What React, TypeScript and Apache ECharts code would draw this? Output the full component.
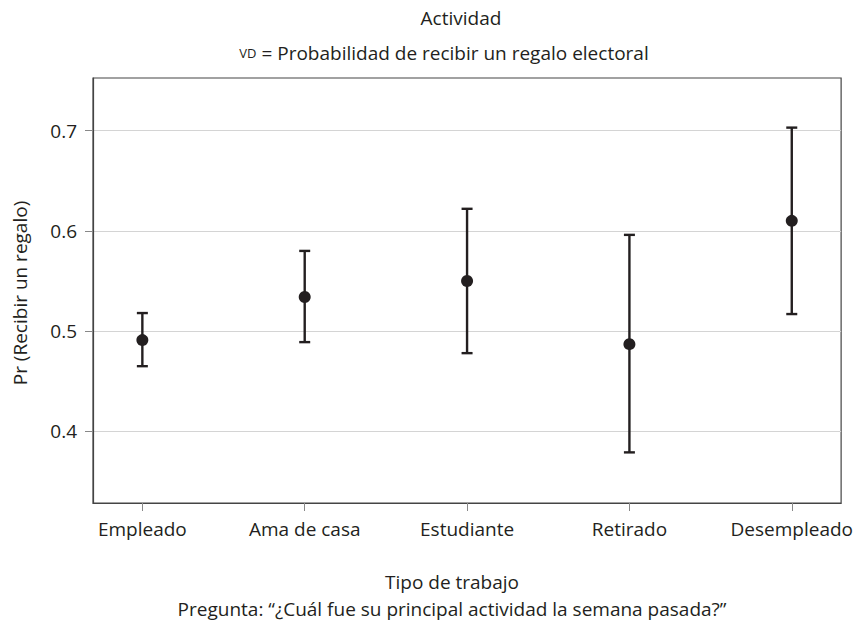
import React, { useEffect, useRef } from "react";
import * as echarts from "echarts";

const categories = ["Empleado", "Ama de casa", "Estudiante", "Retirado", "Desempleado"];
const means = [0.491, 0.534, 0.55, 0.487, 0.61];
const lower = [0.465, 0.489, 0.478, 0.379, 0.517];
const upper = [0.518, 0.58, 0.622, 0.596, 0.703];
const yTicks = [0.4, 0.5, 0.6, 0.7];
const xTicks = [0, 1, 2, 3, 4];

const titleText = "Actividad";
const subtitleText = "{s|VD} = Probabilidad de recibir un regalo electoral";
const xAxisName = "Tipo de trabajo";
const xAxisNote = "Pregunta: \u201c\u00bfCu\u00e1l fue su principal actividad la semana pasada?\u201d";
const yAxisName = "Pr (Recibir un regalo)";

const FONT = "'Open Sans', 'Noto Sans', sans-serif";
const INK = "#231f20";
const FS = 19;

export default function App() {
  const ref = useRef<HTMLDivElement>(null);
  useEffect(() => {
    if (!ref.current) return;
    const chart = echarts.init(ref.current, null, { renderer: "svg" });
    const points = categories.map((_, i) => [i, means[i]]);
    const bars = categories.map((_, i) => [i, lower[i], upper[i]]);
    chart.setOption({
      animation: false,
      backgroundColor: "#ffffff",
      textStyle: { fontFamily: FONT },
      grid: {
        left: 93,
        right: 9,
        top: 78,
        bottom: 120,
        show: true,
        borderColor: "#444444",
        borderWidth: 1.2,
        backgroundColor: "transparent",
      },
      xAxis: {
        type: "value",
        min: -0.304,
        max: 4.304,
        axisLine: { show: true, onZero: false, lineStyle: { color: "#444444", width: 1.2 } },
        axisTick: {
          show: true,
          length: 8,
          customValues: xTicks,
          lineStyle: { color: "#888888", width: 1 },
        },
        axisLabel: {
          customValues: xTicks,
          formatter: (v: number) => categories[Math.round(v)] ?? "",
          fontSize: FS,
          fontFamily: FONT,
          color: INK,
          margin: 16,
        },
        splitLine: { show: false },
      },
      yAxis: {
        type: "value",
        min: 0.3285,
        max: 0.7525,
        axisLine: { show: true, onZero: false, lineStyle: { color: "#444444", width: 1.2 } },
        axisTick: {
          show: true,
          length: 8,
          customValues: yTicks,
          lineStyle: { color: "#888888", width: 1 },
        },
        axisLabel: {
          customValues: yTicks,
          formatter: (v: number) => v.toFixed(1),
          fontSize: FS,
          fontFamily: FONT,
          color: INK,
          margin: 16,
        },
        splitLine: { show: true, lineStyle: { color: "#d4d4d4", width: 1 } },
      },
      series: [
        {
          type: "custom",
          data: bars,
          encode: { x: 0, y: [1, 2] },
          z: 2,
          renderItem: (params: any, api: any) => {
            const x = api.value(0);
            const lo = api.coord([x, api.value(1)]);
            const hi = api.coord([x, api.value(2)]);
            const cap = 5.5;
            const style = { stroke: INK, lineWidth: 2.4 };
            return {
              type: "group",
              children: [
                { type: "line", shape: { x1: lo[0], y1: lo[1], x2: hi[0], y2: hi[1] }, style },
                { type: "line", shape: { x1: hi[0] - cap, y1: hi[1], x2: hi[0] + cap, y2: hi[1] }, style },
                { type: "line", shape: { x1: lo[0] - cap, y1: lo[1], x2: lo[0] + cap, y2: lo[1] }, style },
              ],
            };
          },
        },
        {
          type: "scatter",
          data: points,
          symbol: "circle",
          symbolSize: 12,
          z: 3,
          itemStyle: { color: INK, opacity: 1 },
        },
      ],
      graphic: [
        {
          type: "text",
          x: 461,
          y: 18,
          style: {
            text: titleText,
            font: `${FS}px ${FONT}`,
            fill: INK,
            textAlign: "center",
            textVerticalAlign: "middle",
          },
        },
        {
          type: "text",
          x: 444,
          y: 53,
          style: {
            text: subtitleText,
            font: `${FS}px ${FONT}`,
            fill: INK,
            textAlign: "center",
            textVerticalAlign: "middle",
            rich: { s: { fontSize: 13, fontFamily: FONT, fill: INK } },
          },
        },
        {
          type: "text",
          x: 452,
          y: 582,
          style: {
            text: xAxisName,
            font: `${FS}px ${FONT}`,
            fill: INK,
            textAlign: "center",
            textVerticalAlign: "middle",
          },
        },
        {
          type: "text",
          x: 452,
          y: 608.5,
          style: {
            text: xAxisNote,
            font: `${FS}px ${FONT}`,
            fill: INK,
            textAlign: "center",
            textVerticalAlign: "middle",
          },
        },
        {
          type: "text",
          x: 20,
          y: 293,
          rotation: Math.PI / 2,
          style: {
            text: yAxisName,
            font: `${FS}px ${FONT}`,
            fill: INK,
            textAlign: "center",
            textVerticalAlign: "middle",
          },
        },
      ],
    });
    return () => chart.dispose();
  }, []);
  return (
    <div
      ref={ref}
      style={{ position: "fixed", left: 0, top: 0, width: 856, height: 623, background: "#fff" }}
    />
  );
}
